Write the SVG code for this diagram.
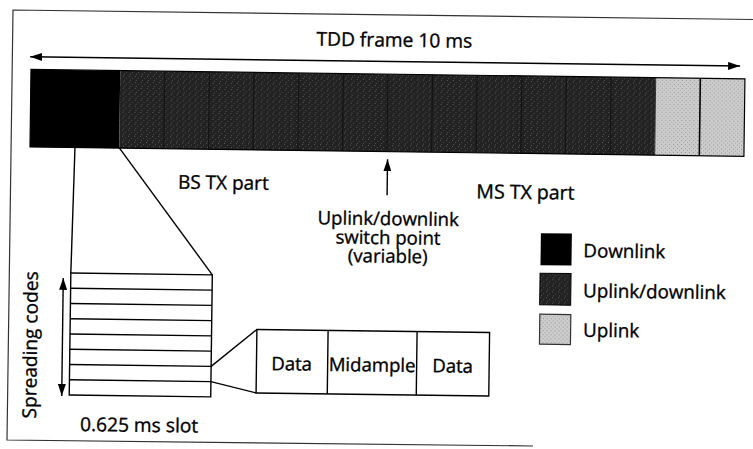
<svg xmlns="http://www.w3.org/2000/svg" width="753" height="449" viewBox="0 0 753 449">
<style>
.t{font-family:"Open Sans","Noto Sans","Liberation Sans",sans-serif;fill:#000;stroke:#000;stroke-width:0.35;}
.ln{stroke:#000;stroke-width:1.4;fill:none;}
.box{stroke:#000;stroke-width:1.4;fill:#fff;}
.dl{fill:#000;}
.ud{fill:url(#dark);}
.ul{fill:url(#light);}
</style>
<defs>
<pattern id="dark" width="6" height="6" patternUnits="userSpaceOnUse">
<rect width="6" height="6" fill="#222"/>
<rect x="1" y="1" width="1" height="1" fill="#606060"/>
<rect x="4" y="3" width="1" height="1" fill="#505050"/>
<rect x="2" y="5" width="1" height="1" fill="#5a5a5a"/>
</pattern>
<pattern id="light" width="4" height="4" patternUnits="userSpaceOnUse">
<rect width="4" height="4" fill="#cdcdcd"/>
<rect x="0" y="0" width="1" height="1" fill="#909090"/>
<rect x="2" y="2" width="1" height="1" fill="#a0a0a0"/>
</pattern>
<marker id="ah" viewBox="0 0 12 8" refX="12" refY="4" markerWidth="12" markerHeight="8" markerUnits="userSpaceOnUse" orient="auto-start-reverse">
<path d="M0,0 L12,4 L0,8 z" fill="#000"/>
</marker>
</defs>
<rect width="753" height="449" fill="#fff"/>
<g id="border">
<path d="M753,19.5 L13,10 L7,440 L533,446" stroke="#333" stroke-width="1.2" fill="none"/>
</g>
<g transform="rotate(0.75 376 224)">
<g id="frame">
<rect class="dl" x="29" y="74" width="89.25" height="77.5"/>
<rect class="ud" x="118.25" y="74" width="535.5" height="77.5"/>
<rect class="ul" x="653.75" y="74" width="89.25" height="77.5"/>
<path d="M162.9,74V151.5M207.5,74V151.5M252.1,74V151.5M296.8,74V151.5M341.4,74V151.5M386,74V151.5M430.6,74V151.5M475.3,74V151.5M519.9,74V151.5M564.5,74V151.5M609.1,74V151.5" stroke="#111" stroke-width="1"/>
<path d="M653.75,74V151.5" stroke="#333" stroke-width="1"/>
<path d="M698.4,74V151.5" stroke="#000" stroke-width="1.6"/>
<rect x="29" y="74" width="714" height="77.5" fill="none" stroke="#000" stroke-width="1.2"/>
</g>
<g id="labels">
<text class="t" x="392" y="46.5" font-size="19.2" text-anchor="middle">TDD frame 10 ms</text>
<text class="t" x="177.5" y="191.3" font-size="19">BS TX part</text>
<text class="t" x="476" y="197" font-size="19.5">MS TX part</text>
<text class="t" x="388.2" y="225" font-size="18.6" text-anchor="middle">Uplink/downlink</text>
<text class="t" x="388.2" y="244" font-size="18.6" text-anchor="middle">switch point</text>
<text class="t" x="388.2" y="262.5" font-size="18.6" text-anchor="middle">(variable)</text>
<text class="t" x="82.7" y="434.8" font-size="19.2">0.625 ms slot</text>
<text class="t" transform="translate(38.6,349.4) rotate(-90)" font-size="19.1" text-anchor="middle">Spreading codes</text>
</g>
<g id="codes">
<rect class="box" x="71.5" y="277" width="141.5" height="122"/>
<path class="ln" d="M71.5,292.25H213M71.5,307.5H213M71.5,322.75H213M71.5,338H213M71.5,353.25H213M71.5,368.5H213M71.5,383.75H213"/>
</g>
<g id="burst">
<rect class="box" x="258.3" y="331" width="232.7" height="63.5"/>
<path class="ln" d="M329.5,331V394.5M418.5,331V394.5"/>
<text class="t" x="293.5" y="371.5" font-size="18.6" text-anchor="middle">Data</text>
<text class="t" x="374" y="371.5" font-size="18.6" text-anchor="middle">Midample</text>
<text class="t" x="454.5" y="371.5" font-size="18.6" text-anchor="middle">Data</text>
</g>
<g id="legend">
<rect class="dl" x="541" y="231" width="31" height="32"/>
<rect class="ud" x="540.7" y="271" width="31" height="31.7" stroke="#000" stroke-width="1"/>
<rect class="ul" x="541" y="312" width="31" height="30" stroke="#333" stroke-width="1.2"/>
<text class="t" x="583.7" y="254.6" font-size="18.8">Downlink</text>
<text class="t" x="584" y="294.6" font-size="18.8">Uplink/downlink</text>
<text class="t" x="584.5" y="334" font-size="18.8">Uplink</text>
</g>
<g id="connectors">
<line class="ln" x1="28" y1="61.3" x2="738" y2="61.3" marker-start="url(#ah)" marker-end="url(#ah)"/>
<line class="ln" x1="74" y1="151.5" x2="71.5" y2="277"/>
<line class="ln" x1="118.5" y1="151.5" x2="213" y2="277"/>
<line class="ln" x1="386.7" y1="195" x2="386.7" y2="159.2" marker-end="url(#ah)"/>
<line class="ln" x1="64" y1="282" x2="64" y2="400" marker-start="url(#ah)" marker-end="url(#ah)"/>
<line class="ln" x1="213" y1="368.5" x2="258.3" y2="331"/>
<line class="ln" x1="213" y1="383.75" x2="258.3" y2="394.5"/>
</g>
</g>
</svg>
